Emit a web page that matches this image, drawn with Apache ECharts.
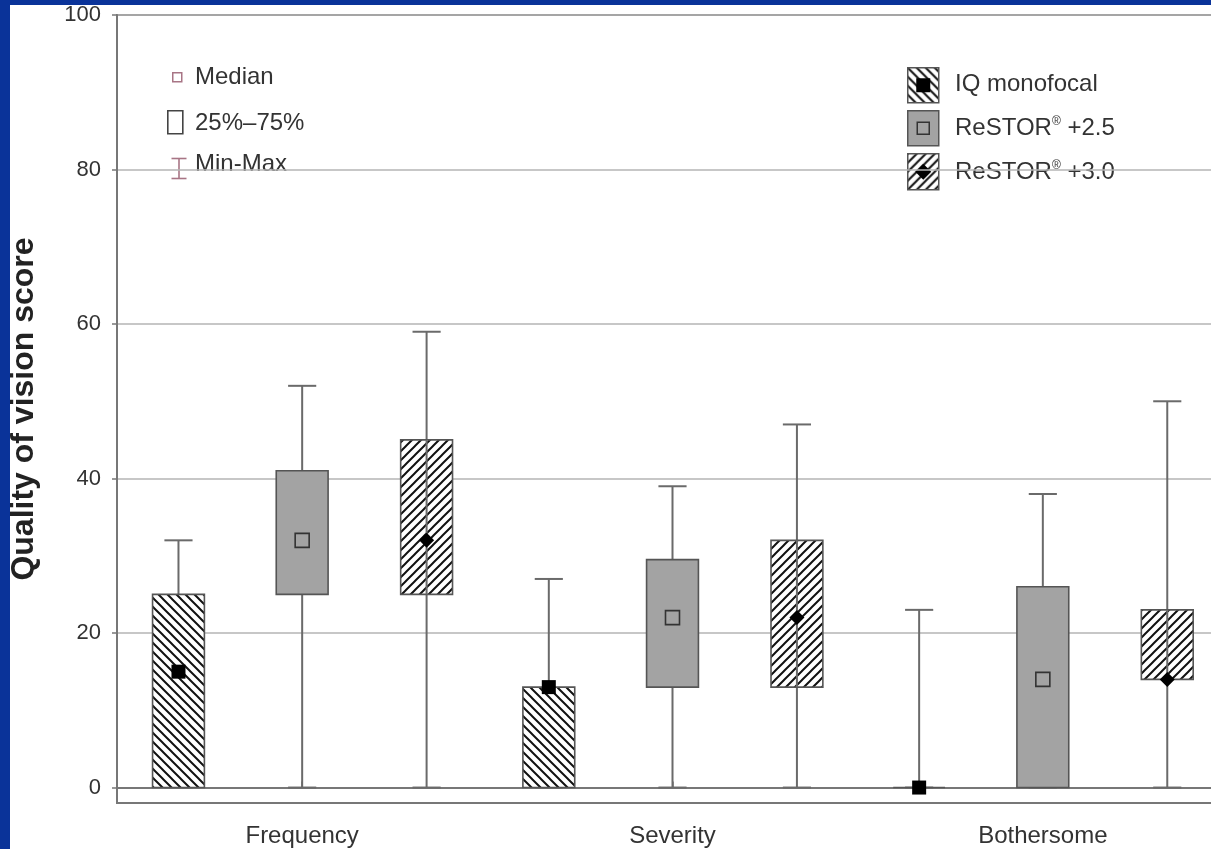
<!DOCTYPE html>
<html><head><meta charset="utf-8">
<script src="https://cdn.jsdelivr.net/npm/echarts@6/dist/echarts.min.js"></script>
<style>
html,body{margin:0;padding:0;background:#0a3399;width:1211px;height:849px;overflow:hidden}
#c{position:absolute;left:10px;top:5px;width:1201px;height:844px;background:#fff}
</style></head><body><div id="c"></div>
<script>
// ---- data ----
const categories = ['Frequency', 'Severity', 'Bothersome'];
const seriesNames = ['IQ monofocal', 'ReSTOR® +2.5', 'ReSTOR® +3.0'];
// each entry: [min, q1 (25%), median, q3 (75%), max]
const iqMonofocal = [[0, 0, 15, 25, 32], [0, 0, 13, 13, 27], [0, 0, 0, 0, 23]];
const restor25    = [[0, 25, 32, 41, 52], [0, 13, 22, 29.5, 39], [0, 0, 14, 26, 38]];
const restor30    = [[0, 25, 32, 45, 59], [0, 13, 22, 32, 47], [0, 14, 14, 23, 50]];
const yTicks = [0, 20, 40, 60, 80, 100];

const FONT = '"Liberation Sans", Arial, sans-serif';

function hatch(dir, size) {
  const s = size, c = document.createElement('canvas');
  c.width = s; c.height = s;
  const g = c.getContext('2d');
  g.fillStyle = '#fff'; g.fillRect(0, 0, s, s);
  g.strokeStyle = '#111'; g.lineWidth = 2; g.lineCap = 'square';
  g.beginPath();
  if (dir === 'back') {
    g.moveTo(-2, -2); g.lineTo(s + 2, s + 2);
    g.moveTo(-2, s - 2); g.lineTo(2, s + 2);
    g.moveTo(s - 2, -2); g.lineTo(s + 2, 2);
  } else {
    g.moveTo(-2, s + 2); g.lineTo(s + 2, -2);
    g.moveTo(-2, 2); g.lineTo(2, -2);
    g.moveTo(s - 2, s + 2); g.lineTo(s + 2, s - 2);
  }
  g.stroke();
  return c;
}
const PAT_BACK = { image: hatch('back', 9), repeat: 'repeat' };
const PAT_FWD = { image: hatch('fwd', 9), repeat: 'repeat' };
const GRAY = '#a3a3a3';

const styles = [
  { offset: -0.334, fill: PAT_BACK, through: false, median: 'square' },
  { offset: 0, fill: GRAY, through: false, median: 'hollow' },
  { offset: 0.336, fill: PAT_FWD, through: true, median: 'diamond' }
];

function renderBox(k) {
  const st = styles[k];
  return function (params, api) {
    const cat = api.value(0);
    const band = api.size([1, 0])[0];
    const cx = api.coord([cat, 0])[0] + st.offset * band;
    const Y = v => api.coord([cat, v])[1];
    const vmin = api.value(1), q1 = api.value(2), med = api.value(3), q3 = api.value(4), vmax = api.value(5);
    const bw = 0.14 * band, cw = 0.076 * band;
    const line = { stroke: '#6a6a6a', lineWidth: 2 };
    const ch = [];
    ch.push({ type: 'line', shape: { x1: cx, y1: Y(vmin), x2: cx, y2: Y(vmax) }, style: line });
    ch.push({ type: 'line', shape: { x1: cx - cw / 2, y1: Y(vmax), x2: cx + cw / 2, y2: Y(vmax) }, style: line });
    ch.push({ type: 'line', shape: { x1: cx - cw / 2, y1: Y(vmin), x2: cx + cw / 2, y2: Y(vmin) }, style: line });
    const top = Y(q3), bot = Y(q1);
    ch.push({ type: 'rect', shape: { x: cx - bw / 2, y: top, width: bw, height: Math.max(bot - top, 0) },
      style: { fill: st.fill, stroke: '#555', lineWidth: 1.6 } });
    if (st.through) ch.push({ type: 'line', shape: { x1: cx, y1: bot, x2: cx, y2: top }, style: line });
    const my = Y(med);
    if (st.median === 'square') {
      ch.push({ type: 'rect', shape: { x: cx - 7, y: my - 7, width: 14, height: 14 }, style: { fill: '#000' } });
    } else if (st.median === 'hollow') {
      ch.push({ type: 'rect', shape: { x: cx - 7, y: my - 7, width: 14, height: 14 }, style: { fill: GRAY, stroke: '#333', lineWidth: 1.6 } });
    } else {
      ch.push({ type: 'polygon', shape: { points: [[cx, my - 7.5], [cx + 7.5, my], [cx, my + 7.5], [cx - 7.5, my]] }, style: { fill: '#000' } });
    }
    return { type: 'group', children: ch };
  };
}

const allSets = [iqMonofocal, restor25, restor30];
const series = allSets.map((set, k) => ({
  type: 'custom',
  name: seriesNames[k],
  renderItem: renderBox(k),
  encode: { x: 0, y: [1, 2, 3, 4, 5] },
  data: set.map((v, i) => [i].concat(v)),
  clip: false,
  z: 3
}));

const txt = { fontSize: 24, fill: '#333', fontFamily: FONT };
const pink = '#a87585';
const graphic = [
  // left legend
  { type: 'rect', left: 162, top: 67, shape: { width: 9, height: 9 }, style: { fill: '#fff', stroke: pink, lineWidth: 1.5 } },
  { type: 'text', left: 185, top: 60, style: Object.assign({ text: 'Median' }, txt) },
  { type: 'rect', left: 157, top: 105, shape: { width: 15, height: 23 }, style: { fill: '#fff', stroke: '#444', lineWidth: 1.6 } },
  { type: 'text', left: 185, top: 106, style: Object.assign({ text: '25%–75%' }, txt) },
  { type: 'group', left: 159, top: 151, children: [
    { type: 'line', shape: { x1: 0, y1: 0, x2: 15, y2: 0 }, style: { stroke: pink, lineWidth: 1.6 } },
    { type: 'line', shape: { x1: 7.5, y1: 0, x2: 7.5, y2: 20 }, style: { stroke: pink, lineWidth: 1.6 } },
    { type: 'line', shape: { x1: 0, y1: 20, x2: 15, y2: 20 }, style: { stroke: pink, lineWidth: 1.6 } }
  ] },
  { type: 'text', left: 185, top: 147, style: Object.assign({ text: 'Min-Max' }, txt) },
  // right legend
  { type: 'group', left: 897, top: 62, children: [
    { type: 'rect', shape: { x: 0, y: 0, width: 31, height: 35 }, style: { fill: PAT_BACK, stroke: '#555', lineWidth: 1.5 } },
    { type: 'rect', shape: { x: 8.5, y: 10.5, width: 14, height: 14 }, style: { fill: '#000' } }
  ] },
  { type: 'text', left: 945, top: 67, style: Object.assign({ text: 'IQ monofocal' }, txt) },
  { type: 'group', left: 897, top: 105, children: [
    { type: 'rect', shape: { x: 0, y: 0, width: 31, height: 35 }, style: { fill: GRAY, stroke: '#555', lineWidth: 1.5 } },
    { type: 'rect', shape: { x: 9.5, y: 11.5, width: 12, height: 12 }, style: { fill: GRAY, stroke: '#333', lineWidth: 1.5 } }
  ] },
  { type: 'text', left: 945, top: 111, style: { text: 'ReSTOR{s|®} +2.5', fontSize: 24, fill: '#333', fontFamily: FONT,
    rich: { s: { fontSize: 12, fill: '#333', fontFamily: FONT, verticalAlign: 'top', padding: [0, 0, 10, 0] } } } },
  { type: 'group', left: 897, top: 148, children: [
    { type: 'rect', shape: { x: 0, y: 0, width: 31, height: 36 }, style: { fill: PAT_FWD, stroke: '#555', lineWidth: 1.5 } },
    { type: 'polygon', shape: { points: [[15.5, 10], [23.5, 18], [15.5, 26], [7.5, 18]] }, style: { fill: '#000' } }
  ] },
  { type: 'text', left: 945, top: 155, style: { text: 'ReSTOR{s|®} +3.0', fontSize: 24, fill: '#333', fontFamily: FONT,
    rich: { s: { fontSize: 12, fill: '#333', fontFamily: FONT, verticalAlign: 'top', padding: [0, 0, 10, 0] } } } }
];

const option = {
  animation: false,
  backgroundColor: '#fff',
  grid: { left: 107, top: 10, right: -17, bottom: 46, show: true, borderColor: '#777', borderWidth: 2,
    backgroundColor: '#fff', containLabel: false, outerBoundsMode: 'none' },
  xAxis: {
    type: 'category', data: categories,
    axisLine: { show: true, lineStyle: { color: '#777', width: 2 } },
    axisTick: { show: true, inside: true, alignWithLabel: true, length: 6, lineStyle: { color: '#777', width: 1.5 } },
    axisLabel: { fontSize: 24, color: '#333', margin: 21, fontFamily: FONT },
    splitLine: { show: false }
  },
  yAxis: {
    type: 'value', min: -2, max: 100,
    name: 'Quality of vision score', nameLocation: 'middle', nameGap: 77,
    nameTextStyle: { fontSize: 32, fontWeight: 'bold', color: '#222', fontFamily: FONT },
    axisLine: { show: true, lineStyle: { color: '#777', width: 2 } },
    axisTick: { show: true, customValues: yTicks, length: 5, lineStyle: { color: '#777', width: 1.5 } },
    axisLabel: { customValues: yTicks, fontSize: 22, color: '#333', margin: 16, fontFamily: FONT },
    splitLine: { show: true, lineStyle: { color: '#b5b5b5', width: 1.5 } }
  },
  graphic: graphic,
  series: series
};
const chart = echarts.init(document.getElementById('c'));
chart.setOption(option);
</script></body></html>
